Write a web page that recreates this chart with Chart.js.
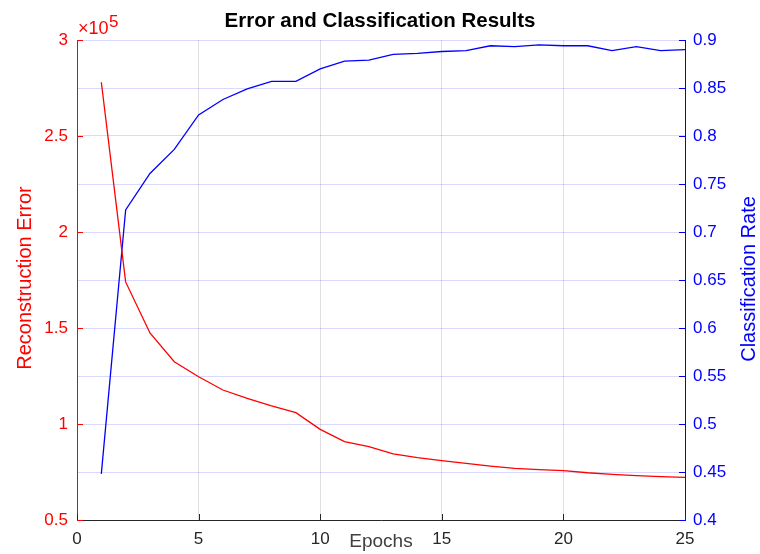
<!DOCTYPE html>
<html><head><meta charset="utf-8">
<script src="https://cdn.jsdelivr.net/npm/chart.js@4/dist/chart.umd.min.js"></script>
<style>html,body{margin:0;padding:0;background:#fff;}canvas{display:block;}</style>
</head><body>
<canvas id="c" width="760" height="554"></canvas>
<script>
// ---- data ----
const epochs = [1,2,3,4,5,6,7,8,9,10,11,12,13,14,15,16,17,18,19,20,21,22,23,24,25];
const reconstructionError = [278000,174000,147400,132400,124600,117700,113400,109400,105900,97200,90800,88200,84400,82500,80900,79500,78100,76900,76200,75700,74600,73800,73100,72600,72200];
const classificationRate = [0.448,0.723,0.761,0.786,0.822,0.838,0.849,0.857,0.857,0.870,0.878,0.879,0.885,0.886,0.888,0.889,0.894,0.893,0.895,0.894,0.894,0.889,0.893,0.889,0.890];
const epochTicks = [0,5,10,15,20,25];
const errorTicks = [50000,100000,150000,200000,250000,300000];
const rateTicks = [0.4,0.45,0.5,0.55,0.6,0.65,0.7,0.75,0.8,0.85,0.9];
const errorExponent = 5;

const FONT = "'Liberation Sans', Arial, Helvetica, sans-serif";
const RED = '#ff0000', BLUE = '#0000ff', DARK = '#262626';

const decor = {
  id: 'decor',
  afterDraw(chart) {
    const {ctx, chartArea: a, scales: {x, yL, yR}} = chart;
    ctx.save();
    ctx.lineWidth = 1;
    // inward tick marks
    ctx.strokeStyle = DARK;
    x.ticks.forEach(t => {
      const px = Math.round(x.getPixelForValue(t.value)) + 0.5;
      ctx.beginPath(); ctx.moveTo(px, a.bottom); ctx.lineTo(px, a.bottom - 6); ctx.stroke();
    });
    ctx.strokeStyle = RED;
    yL.ticks.forEach(t => {
      const py = Math.round(yL.getPixelForValue(t.value)) + 0.5;
      ctx.beginPath(); ctx.moveTo(a.left, py); ctx.lineTo(a.left + 6, py); ctx.stroke();
    });
    ctx.strokeStyle = BLUE;
    yR.ticks.forEach(t => {
      const py = Math.round(yR.getPixelForValue(t.value)) + 0.5;
      ctx.beginPath(); ctx.moveTo(a.right, py); ctx.lineTo(a.right - 6, py); ctx.stroke();
    });
    // exponent label
    ctx.fillStyle = RED;
    ctx.textBaseline = 'alphabetic';
    ctx.textAlign = 'left';
    ctx.font = '18px ' + FONT;
    const base = '\u00d710';
    ctx.fillText(base, a.left + 1, 34);
    const w = ctx.measureText(base).width;
    ctx.font = '17px ' + FONT;
    ctx.fillText(String(errorExponent), a.left + 1.5 + w, 27);
    // axis titles
    ctx.font = '20px ' + FONT;
    ctx.textAlign = 'center';
    ctx.textBaseline = 'middle';
    ctx.save();
    ctx.translate(25, (a.top + a.bottom) / 2 - 2);
    ctx.rotate(-Math.PI / 2);
    ctx.fillStyle = RED;
    ctx.fillText('Reconstruction Error', 0, 0);
    ctx.restore();
    ctx.save();
    ctx.translate(749, (a.top + a.bottom) / 2 - 1);
    ctx.rotate(-Math.PI / 2);
    ctx.fillStyle = BLUE;
    ctx.fillText('Classification Rate', 0, 0);
    ctx.restore();
    ctx.fillStyle = '#404040';
    ctx.textBaseline = 'alphabetic';
    ctx.font = '19px ' + FONT;
    ctx.fillText('Epochs', (a.left + a.right) / 2, 547);
    ctx.restore();
  }
};

new Chart(document.getElementById('c'), {
  type: 'line',
  data: {
    datasets: [
      {
        label: 'Reconstruction Error',
        data: epochs.map((e, i) => ({x: e, y: reconstructionError[i]})),
        yAxisID: 'yL', borderColor: RED, borderWidth: 1.3,
        pointRadius: 0, tension: 0, fill: false
      },
      {
        label: 'Classification Rate',
        data: epochs.map((e, i) => ({x: e, y: classificationRate[i]})),
        yAxisID: 'yR', borderColor: BLUE, borderWidth: 1.3,
        pointRadius: 0, tension: 0, fill: false
      }
    ]
  },
  options: {
    responsive: false,
    animation: false,
    devicePixelRatio: 1,
    layout: {padding: 0},
    plugins: {
      legend: {display: false},
      tooltip: {enabled: false},
      title: {
        display: true,
        text: 'Error and Classification Results',
        color: '#000',
        font: {family: FONT, size: 20.5, weight: 'bold', lineHeight: 1.2},
        padding: {top: 9, bottom: 6.4}
      }
    },
    scales: {
      x: {
        type: 'linear', position: 'bottom', min: 0, max: 25,
        afterBuildTicks: s => { s.ticks = epochTicks.map(v => ({value: v})); },
        afterFit: s => { s.height = 34; },
        ticks: {color: '#262626', font: {family: FONT, size: 17}, padding: 9, maxRotation: 0},
        grid: {color: 'rgba(38,38,38,0.15)', drawTicks: false, lineWidth: 1},
        border: {color: DARK, width: 1}
      },
      yL: {
        type: 'linear', position: 'left', min: 50000, max: 300000,
        afterBuildTicks: s => { s.ticks = errorTicks.map(v => ({value: v})); },
        afterFit: s => { s.width = 77; },
        ticks: {color: RED, font: {family: FONT, size: 17}, padding: 9,
          callback: v => String(Math.round(v / Math.pow(10, errorExponent) * 100) / 100)},
        grid: {drawOnChartArea: false, drawTicks: false},
        border: {color: RED, width: 1}
      },
      yR: {
        type: 'linear', position: 'right', min: 0.4, max: 0.9,
        afterBuildTicks: s => { s.ticks = rateTicks.map(v => ({value: v})); },
        afterFit: s => { s.width = 75; },
        ticks: {color: BLUE, font: {family: FONT, size: 17}, padding: 8,
          callback: v => String(Math.round(v * 100) / 100)},
        grid: {color: 'rgba(0,0,255,0.15)', drawTicks: false, lineWidth: 1},
        border: {color: BLUE, width: 1}
      }
    }
  },
  plugins: [decor]
});
</script>
</body></html>
